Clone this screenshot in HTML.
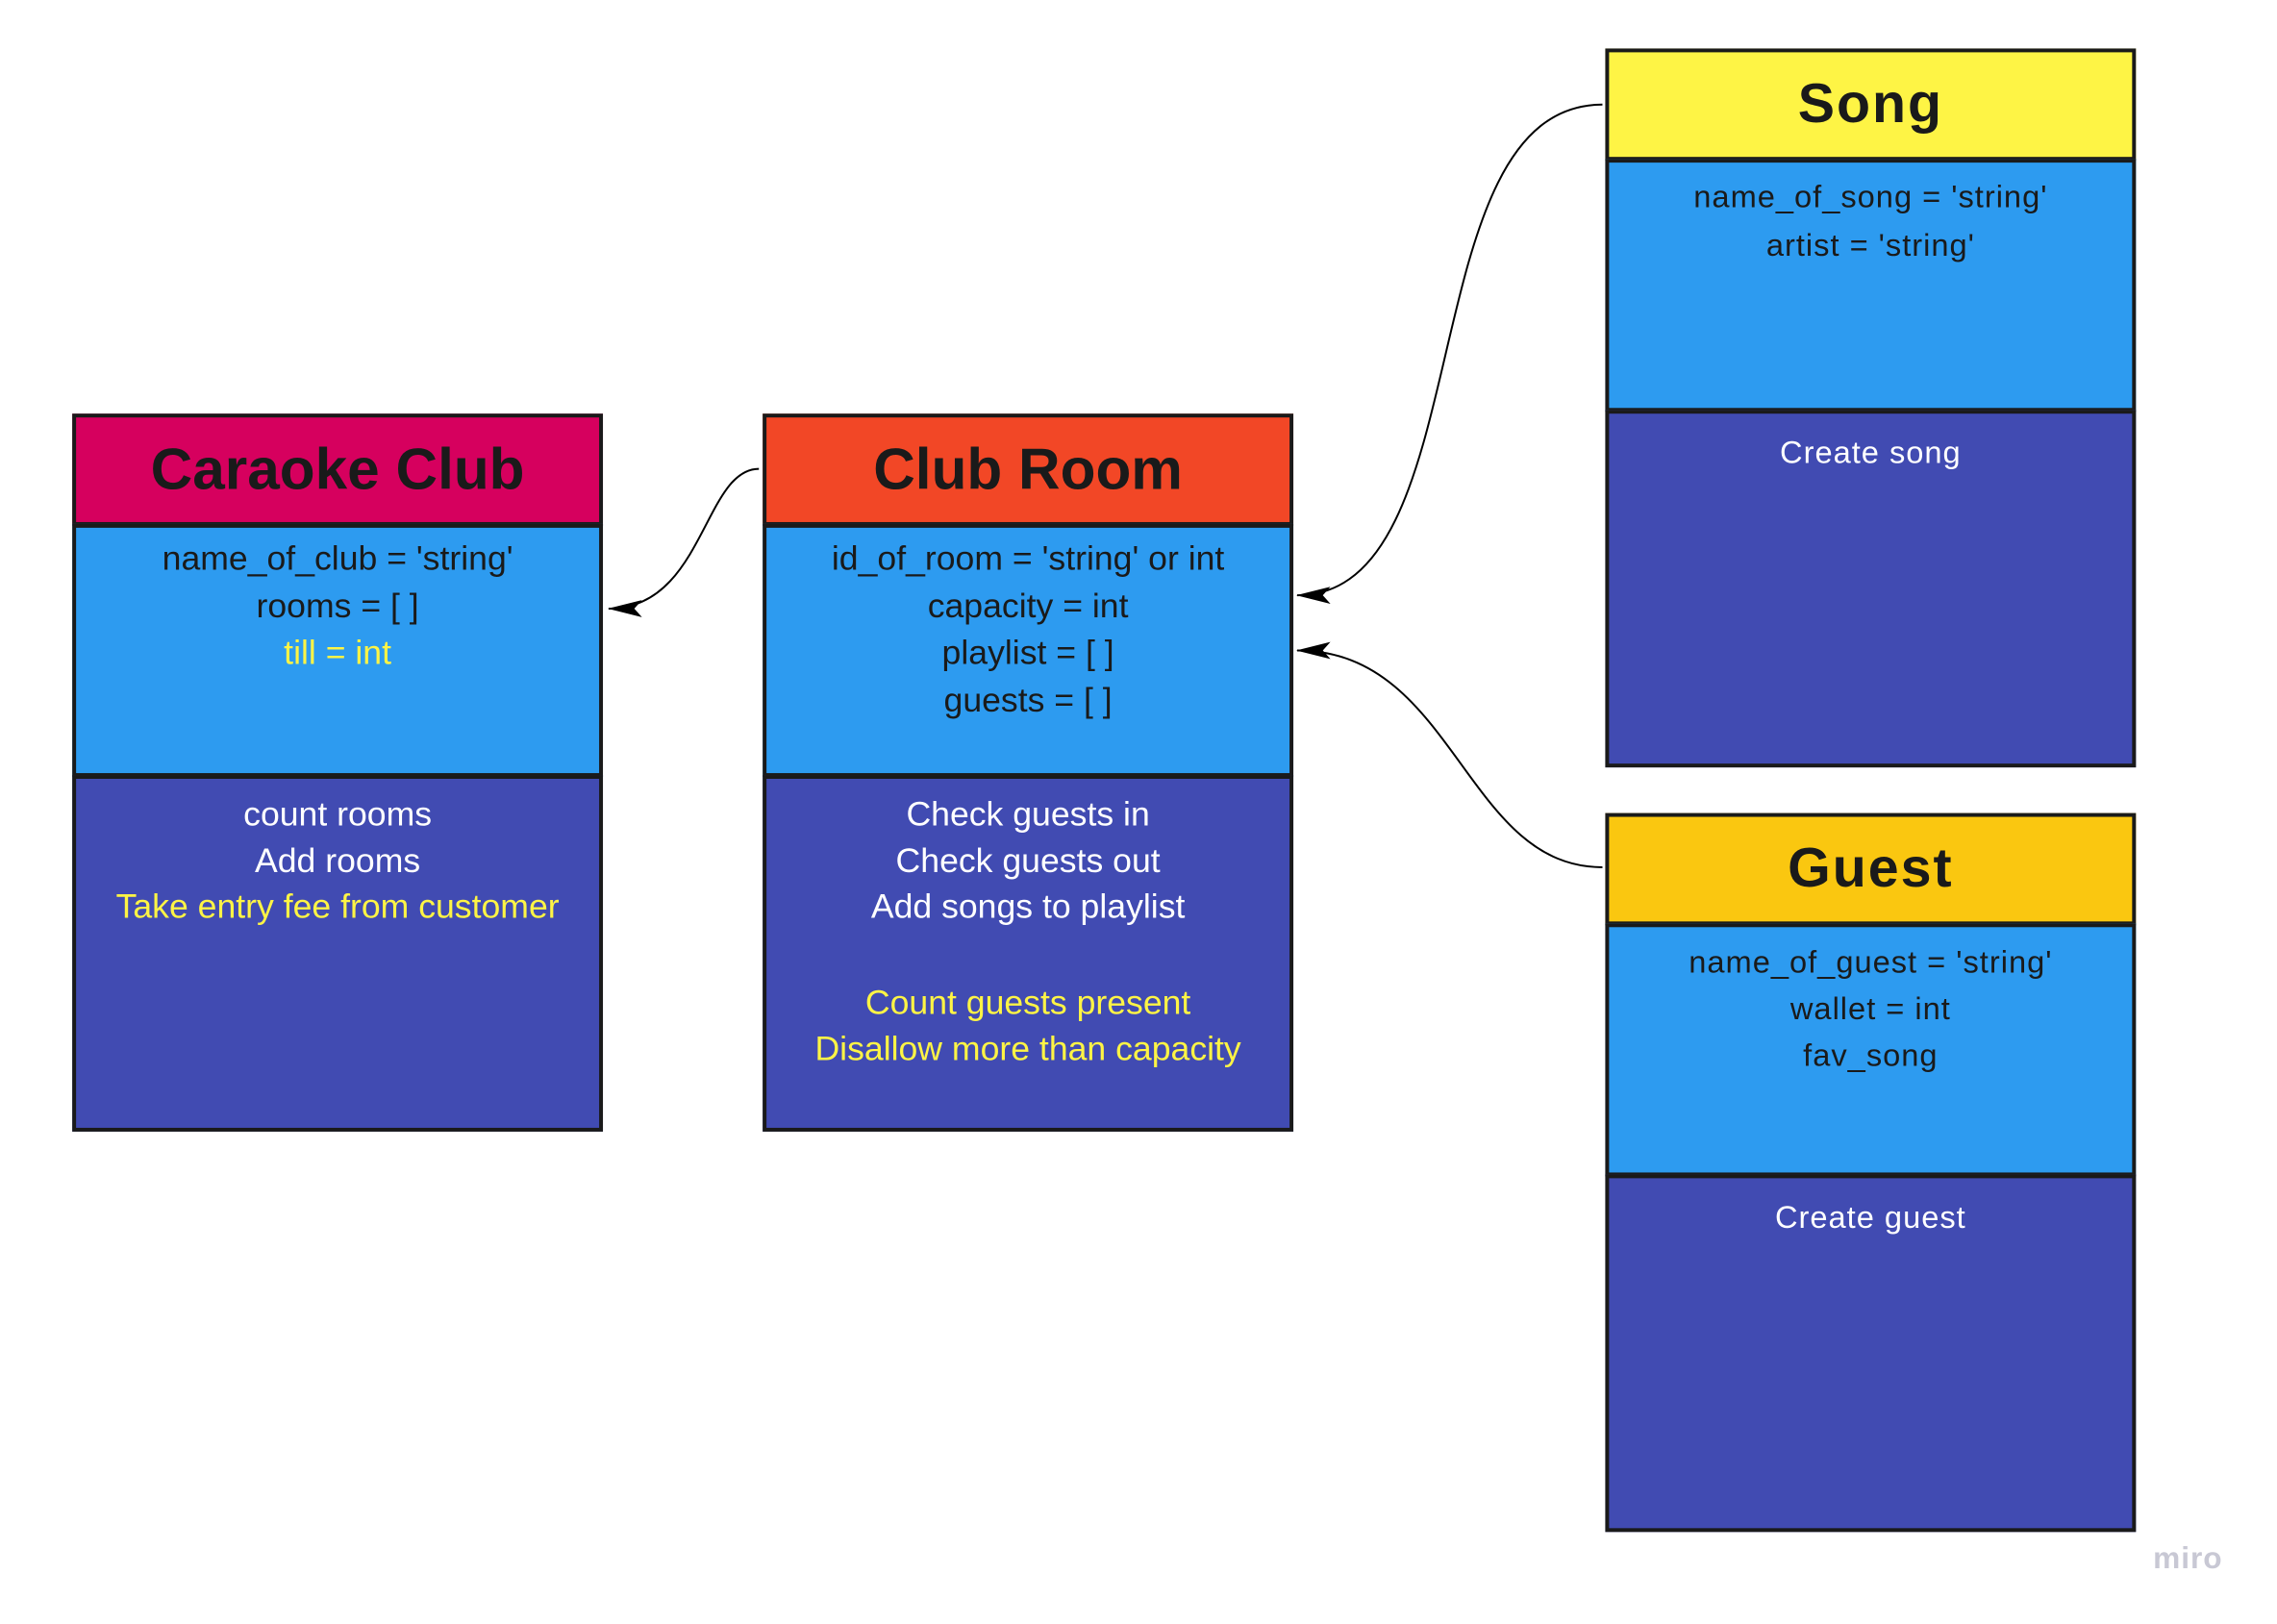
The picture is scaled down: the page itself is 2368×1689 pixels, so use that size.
<!DOCTYPE html>
<html><head><meta charset="utf-8"><style>
body{margin:0;width:2368px;height:1689px;background:#fff;position:relative;overflow:hidden;font-family:"Liberation Sans",sans-serif}
#w{position:absolute;left:0;top:0;width:2368px;height:1689px;transform:scale(0.989);transform-origin:0 0}
.b{position:absolute;box-sizing:border-box;border:4px solid #1a1a1a}
.t{position:absolute;left:0;width:100%;text-align:center;transform:translateY(-50%);white-space:nowrap}
.h{font-weight:bold;font-size:61px;color:#1a1a1a}
.a{font-size:36px;color:#1a1a1a}
.m{font-size:36px;color:#fff}
.y{color:#fef445}
.w{font-size:33px;letter-spacing:1px}
.hw{font-size:58px;letter-spacing:2px}
</style></head><body><div id="w">
<svg width="2368" height="1689" style="position:absolute;left:0;top:0">
<defs><marker id="a2" markerWidth="36" markerHeight="18" refX="35" refY="9" orient="auto" markerUnits="userSpaceOnUse"><path d="M0,0 L36,9 L0,18 L8,9 z" fill="#000"/></marker></defs>
<path d="M798,493 C740,493 740,640 640,640" fill="none" stroke="#000" stroke-width="2" marker-end="url(#a2)"/>
<path d="M1685,110 C1480,110 1560,626 1364,626" fill="none" stroke="#000" stroke-width="2" marker-end="url(#a2)"/>
<path d="M1685,912 C1540,912 1530,684 1364,684" fill="none" stroke="#000" stroke-width="2" marker-end="url(#a2)"/>
</svg>

<div class="b" style="left:76px;top:435px;width:558px;height:118px;background:#d6005e"><div class="t h" style="top:54px">Caraoke Club</div></div>
<div class="b" style="left:76px;top:551px;width:558px;height:266px;background:#2d9bf0">
<div class="t a" style="top:32px">name_of_club = 'string'</div>
<div class="t a" style="top:82px">rooms = [ ]</div>
<div class="t a y" style="top:131px">till = int</div></div>
<div class="b" style="left:76px;top:815px;width:558px;height:375px;background:#414bb2">
<div class="t m" style="top:37px">count rooms</div>
<div class="t m" style="top:86px">Add rooms</div>
<div class="t m y" style="top:134px">Take entry fee from customer</div></div>

<div class="b" style="left:802px;top:435px;width:558px;height:118px;background:#f24726"><div class="t h" style="top:54px">Club Room</div></div>
<div class="b" style="left:802px;top:551px;width:558px;height:266px;background:#2d9bf0">
<div class="t a" style="top:32px">id_of_room = 'string' or int</div>
<div class="t a" style="top:82px">capacity = int</div>
<div class="t a" style="top:131px">playlist = [ ]</div>
<div class="t a" style="top:181px">guests = [ ]</div></div>
<div class="b" style="left:802px;top:815px;width:558px;height:375px;background:#414bb2">
<div class="t m" style="top:37px">Check guests in</div>
<div class="t m" style="top:86px">Check guests out</div>
<div class="t m" style="top:134px">Add songs to playlist</div>
<div class="t m y" style="top:235px">Count guests present</div>
<div class="t m y" style="top:284px">Disallow more than capacity</div></div>

<div class="b" style="left:1688px;top:51px;width:558px;height:118px;background:#fef445"><div class="t h hw" style="top:54px">Song</div></div>
<div class="b" style="left:1688px;top:167px;width:558px;height:266px;background:#2d9bf0">
<div class="t a w" style="top:36px">name_of_song = 'string'</div>
<div class="t a w" style="top:87px">artist = 'string'</div></div>
<div class="b" style="left:1688px;top:431px;width:558px;height:376px;background:#414bb2">
<div class="t m w" style="top:41px">Create song</div></div>

<div class="b" style="left:1688px;top:855px;width:558px;height:118px;background:#fac710"><div class="t h hw" style="top:54px">Guest</div></div>
<div class="b" style="left:1688px;top:971px;width:558px;height:266px;background:#2d9bf0">
<div class="t a w" style="top:37px">name_of_guest = 'string'</div>
<div class="t a w" style="top:86px">wallet = int</div>
<div class="t a w" style="top:135px">fav_song</div></div>
<div class="b" style="left:1688px;top:1235px;width:558px;height:376px;background:#414bb2">
<div class="t m w" style="top:41px">Create guest</div></div>

<div style="position:absolute;left:2264px;top:1620px;font-size:32px;color:#c8c8d4;font-weight:bold;letter-spacing:1px">miro</div>
</div></body></html>
